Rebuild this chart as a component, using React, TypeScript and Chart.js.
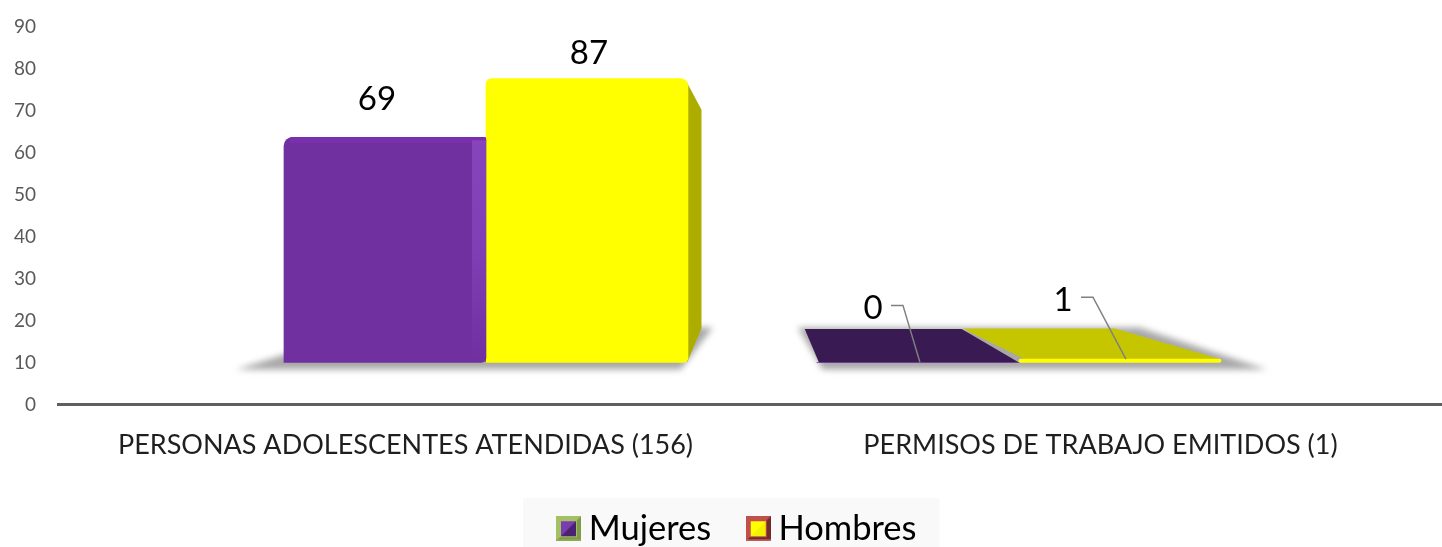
import React, { useEffect, useRef } from "react";
import { Chart, registerables } from "chart.js";

Chart.register(...registerables);

const categories = ["PERSONAS ADOLESCENTES ATENDIDAS (156)", "PERMISOS DE TRABAJO EMITIDOS (1)"];
const seriesNames = ["Mujeres", "Hombres"];
const mujeres = [69, 0];
const hombres = [87, 1];
const axisTicks = [0, 10, 20, 30, 40, 50, 60, 70, 80, 90];

const FONT = "Lato, 'Open Sans', sans-serif";
const VP = { x: 762, y: 210, k: 0.777 };
const px = (x: number, k = VP.k) => VP.x + (x - VP.x) * k;
const py = (y: number, k = VP.k) => VP.y + (y - VP.y) * k;

// label offsets from the bar's top-centre: [dx, dy, leader?]
const labelOffsets = [
  [[-8, -38, 0], [-45, -54, 1]],
  [[2, -25, 0], [-57, -59, 1]],
];

function swatch(outerA: string, outerB: string, outerC: string, inner: string, innerDark: string) {
  const c = document.createElement("canvas");
  c.width = 25;
  c.height = 25;
  const g = c.getContext("2d")!;
  g.fillStyle = outerA;
  g.fillRect(0, 0, 25, 25);
  g.fillStyle = outerB;
  g.beginPath();
  g.moveTo(25, 0);
  g.lineTo(25, 25);
  g.lineTo(0, 25);
  g.lineTo(4, 21);
  g.lineTo(21, 21);
  g.lineTo(21, 4);
  g.closePath();
  g.fill();
  g.fillStyle = outerC;
  g.fillRect(0, 23, 25, 2);
  g.fillStyle = inner;
  g.fillRect(5, 5, 15, 15);
  g.fillStyle = innerDark;
  g.beginPath();
  g.moveTo(20, 5);
  g.lineTo(20, 20);
  g.lineTo(5, 20);
  g.closePath();
  g.fill();
  return c;
}

const decor = {
  id: "decor",
  beforeDraw(chart: any) {
    const { ctx, legend } = chart;
    const boxes = legend.legendHitBoxes;
    if (!boxes || !boxes.length) return;
    const l = boxes[0].left - 42.5;
    const last = boxes[boxes.length - 1];
    const r = last.left + last.width + 23;
    ctx.save();
    ctx.fillStyle = "#f9f9f9";
    ctx.fillRect(l, 498, r - l, 60);
    ctx.restore();
  },
  beforeDatasetsDraw(chart: any) {
    const { ctx } = chart;
    const n = chart.data.labels.length;
    for (let i = 0; i < n; i++) {
      const a = chart.getDatasetMeta(0).data[i];
      const b = chart.getDatasetMeta(1).data[i];
      const L = a.x - a.width / 2;
      const R = b.x + b.width / 2;
      const B = a.base;
      ctx.save();
      ctx.filter = "blur(3px)";
      ctx.fillStyle = "#a8a8a8";
      ctx.beginPath();
      ctx.moveTo(px(L, 1.1), B + 7);
      ctx.lineTo(px(R, 1.1), B + 7);
      ctx.lineTo(px(R, 0.8) + 10, B - 35);
      ctx.lineTo(px(L, 0.8) - 8, B - 35);
      ctx.closePath();
      ctx.fill();
      ctx.restore();
    }
    const colours = [
      { top: "#3a1a52", side: "#3a1a52" },
      { top: "#c6c600", side: "#adad00" },
    ];
    [0, 1].forEach((d) => {
      chart.getDatasetMeta(d).data.forEach((el: any) => {
        const L = el.x - el.width / 2;
        const R = el.x + el.width / 2;
        const T = el.y;
        const B = el.base;
        ctx.save();
        if (T > VP.y) {
          const backY = py(T) + (d === 0 ? 0.5 : 2.5);
          ctx.fillStyle = colours[d].top;
          ctx.beginPath();
          ctx.moveTo(L + (d === 0 ? 2 : 6), T);
          ctx.lineTo(R, T);
          ctx.lineTo(px(R) - (d === 0 ? 0 : 4), backY);
          ctx.lineTo(px(L) + (d === 0 ? 0 : 1), backY);
          ctx.closePath();
          ctx.fill();
        }
        if (R < VP.x) {
          ctx.fillStyle = colours[d].side;
          ctx.beginPath();
          ctx.moveTo(R - 1, T + 4);
          ctx.lineTo(px(R) - 3, py(T) + 2);
          ctx.lineTo(px(R) - 3, py(B));
          ctx.lineTo(R - 1, B);
          ctx.closePath();
          ctx.fill();
        }
        ctx.restore();
      });
    });
  },
  afterDatasetsDraw(chart: any) {
    const { ctx } = chart;
    // bevels on the tall purple bar
    const p = chart.getDatasetMeta(0).data[0];
    const pL = p.x - p.width / 2;
    const pR = p.x + p.width / 2;
    ctx.save();
    ctx.fillStyle = "#7a30ac";
    ctx.fillRect(pL + 6, p.y, p.width - 6, 6);
    const grad = ctx.createLinearGradient(0, p.y, 0, p.base);
    grad.addColorStop(0, "rgba(136,70,190,0.95)");
    grad.addColorStop(0.5, "rgba(136,70,190,0.65)");
    grad.addColorStop(1, "rgba(136,70,190,0)");
    ctx.fillStyle = grad;
    ctx.fillRect(pR - 14, p.y + 3, 14, p.base - p.y - 3);
    ctx.restore();
    // data labels with leader lines
    [0, 1].forEach((d) => {
      chart.getDatasetMeta(d).data.forEach((el: any, i: number) => {
        const [dx, dy, leader] = labelOffsets[d][i];
        const lx = el.x + dx;
        const ly = el.y + dy;
        ctx.save();
        ctx.fillStyle = "#000000";
        ctx.font = `33px ${FONT}`;
        ctx.textAlign = "center";
        ctx.textBaseline = "middle";
        ctx.fillText(String(chart.data.datasets[d].data[i].y), lx, ly);
        if (leader) {
          ctx.strokeStyle = "#808080";
          ctx.lineWidth = 1.5;
          ctx.beginPath();
          ctx.moveTo(lx + 18, ly - 3);
          ctx.lineTo(lx + 30, ly - 3);
          ctx.lineTo(el.x + (d === 0 ? 2 : 6), el.y);
          ctx.stroke();
        }
        ctx.restore();
      });
    });
  },
};

export default function App() {
  const ref = useRef<HTMLCanvasElement>(null);
  useEffect(() => {
    const swatches = [
      swatch("#a3c163", "#7f9a4a", "#8faa55", "#7a3cb0", "#4a2370"),
      swatch("#c0504d", "#6e2c2a", "#c25a57", "#ffff00", "#f2f200"),
    ];
    const chart = new Chart(ref.current!, {
      type: "bar",
      data: {
        labels: categories,
        datasets: [
          {
            label: seriesNames[0],
            data: mujeres.map((y, x) => ({ x, y })),
            backgroundColor: "#7030a0",
            xAxisID: "xb",
            yAxisID: "yb",
            barThickness: 202,
            borderRadius: { topLeft: 9, topRight: 3, bottomLeft: 0, bottomRight: 5 },
            borderSkipped: false,
          },
          {
            label: seriesNames[1],
            data: hombres.map((y, x) => ({ x, y })),
            backgroundColor: "#ffff00",
            xAxisID: "xb",
            yAxisID: "yb",
            barThickness: 202,
            borderRadius: { topLeft: 6, topRight: 8, bottomLeft: 0, bottomRight: 5 },
            borderSkipped: false,
          },
        ] as any,
      },
      options: {
        animation: false,
        responsive: false,
        layout: { padding: { left: 0, top: 27, right: 0, bottom: 0 } },
        plugins: {
          tooltip: { enabled: false },
          legend: {
            position: "bottom",
            labels: {
              usePointStyle: true,
              pointStyleWidth: 6,
              padding: 44,
              color: "#000000",
              font: { family: FONT, size: 34.5 },
              generateLabels: (c: any) =>
                c.data.datasets.map((ds: any, i: number) => ({
                  text: ds.label,
                  pointStyle: swatches[i],
                  fontColor: "#000000",
                  datasetIndex: i,
                  lineWidth: 0,
                  strokeStyle: "transparent",
                  fillStyle: "transparent",
                })),
            },
          },
        },
        scales: {
          x: {
            type: "category",
            labels: categories,
            offset: true,
            grid: { display: false, drawTicks: false },
            border: { display: true, color: "#5f5f5f", width: 3 },
            ticks: {
              color: "#1f1f1f",
              font: { family: FONT, size: 27 },
              padding: 25,
              maxRotation: 0,
              autoSkip: false,
            },
            afterFit: (s: any) => {
              s.height = 63;
            },
          },
          y: {
            type: "linear",
            position: "left",
            min: 0,
            max: 90,
            afterBuildTicks: (s: any) => {
              s.ticks = axisTicks.map((value) => ({ value }));
            },
            grid: { display: false, drawTicks: false },
            border: { display: false },
            ticks: { color: "#595959", font: { family: FONT, size: 19 }, padding: 22 },
            afterFit: (s: any) => {
              s.width = 58;
              s.paddingTop = 0;
              s.paddingBottom = 0;
            },
          },
          xb: {
            type: "linear",
            axis: "x",
            display: false,
            offset: false,
            min: -0.803,
            max: 1.805,
            grid: { display: false },
          },
          yb: {
            type: "linear",
            axis: "y",
            position: "right",
            display: true,
            min: -12.9,
            max: 102.8,
            grid: { display: false, drawTicks: false },
            border: { display: false },
            ticks: { display: false },
            afterFit: (s: any) => {
              s.width = 34;
              s.paddingTop = 0;
              s.paddingBottom = 0;
            },
          },
        },
      } as any,
      plugins: [decor],
    } as any);
    return () => chart.destroy();
  }, []);
  return (
    <div style={{ position: "fixed", left: 0, top: 0, width: 1442, height: 547, overflow: "hidden", background: "#fff" }}>
      <canvas ref={ref} width={1482} height={556} style={{ display: "block" }} />
    </div>
  );
}
